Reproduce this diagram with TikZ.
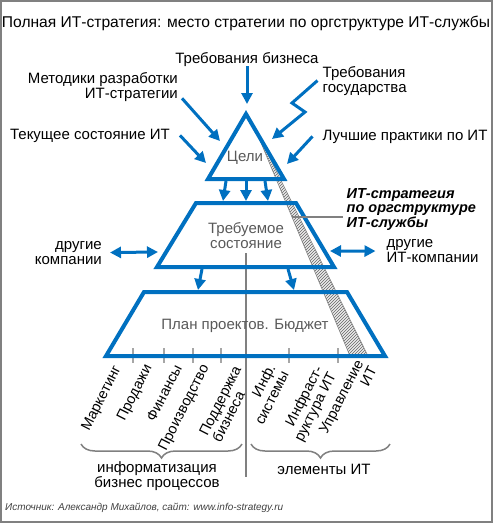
\documentclass[tikz,border=0pt]{standalone}
\usepackage{fontspec}
\setsansfont{Liberation Sans}
\usetikzlibrary{arrows.meta,patterns,decorations.pathreplacing}
\definecolor{itblue}{RGB}{0,112,192}

\begin{document}
\begin{tikzpicture}[x=1pt,y=-1pt,inner sep=0pt,font=\sffamily\fontsize{15}{15}\selectfont,
		tier/.style={draw=itblue,line width=4},
		feed/.style={itblue,line width=3,-{Triangle[length=11pt,width=11pt]}},
		linkboth/.style={itblue,line width=3,{Triangle[length=11pt,width=11pt]}-{Triangle[length=11pt,width=11pt]}},
		inlabel/.style={text=black!65},
		tilted/.style={rotate=63,anchor=east,font=\sffamily\fontsize{14.5}{15}\selectfont},
		grayline/.style={draw=black!50,line width=1.5}]
	\useasboundingbox (0,0) rectangle (493,523);
	\draw[black!50,line width=2] (1,1) rectangle (492,522);
	\node[anchor=base,font=\sffamily\fontsize{15.6}{16}\selectfont] (title) at (246,27) {Полная ИТ-стратегия: место стратегии по оргструктуре ИТ-службы};

	\draw[draw=black!50,line width=.6,preaction={fill=black!8},pattern=north east lines,pattern color=black!60] (254,126) -- (368,356) -- (350,356) -- cycle;
	\draw[grayline] (246,253) -- (246,477);
	\foreach \t in {133,164,193,221,289,338}{
		\draw[grayline,draw=black!35] (\t,348) -- (\t,363);
	}
	\draw[tier] (246,114) -- (284,179) -- (208,179) -- cycle;
	\draw[tier] (196,203) -- (296,203) -- (334,267) -- (157,267) -- cycle;
	\draw[tier] (144,292) -- (347,292) -- (385,356) -- (106,356) -- cycle;

	\node[inlabel,anchor=base] (goals) at (245,161) {Цели};
	\node[inlabel,anchor=base,align=center] (need) at (246,248.5) {Требуемое\\состояние};
	\node[inlabel,anchor=base] (plan) at (245,329) {План проектов. Бюджет};

	\node[anchor=base] (business) at (247,63) {Требования бизнеса};
	\node[anchor=base east,align=right] (methods) at (178,98) {Методики разработки\\ИТ-стратегии};
	\node[anchor=base east] (current) at (170,139) {Текущее состояние ИТ};
	\node[anchor=base west,align=left] (state) at (322.5,92) {Требования\\государства};
	\node[anchor=base west] (practice) at (322.5,140) {Лучшие практики по ИТ};
	\node[anchor=base west,align=left,font=\sffamily\bfseries\itshape\fontsize{14.5}{14.5}\selectfont] (strategy) at (346.5,227) {ИТ-стратегия\\по оргструктуре\\ИТ-службы};
	\node[anchor=base east,align=right] (peers) at (102,264) {другие\\компании};
	\node[anchor=base west,align=left] (itpeers) at (386.5,262.5) {другие\\ИТ-компании};

	\node[tilted] (marketing) at (118,367) {Маркетинг};
	\node[tilted] (sales) at (149,366) {Продажи};
	\node[tilted] (finance) at (178,365.5) {Финансы};
	\node[tilted] (production) at (206,365.5) {Производство};
	\node[tilted,align=left] (support) at (244,370) {Поддержка\\бизнеса};
	\node[tilted,align=right] (infosys) at (278,368.5) {Инф.\\системы};
	\node[tilted,align=right] (infra) at (326.5,370.5) {Инфраст-\\руктура ИТ};
	\node[tilted,align=right] (itmanage) at (366,364) {Управление\\ИТ};

	\draw[grayline,decorate,decoration={brace,mirror,amplitude=14pt}] (81,444) -- (242,444);
	\draw[grayline,decorate,decoration={brace,mirror,amplitude=14pt}] (251,444) -- (390,444);
	\node[anchor=base,align=center] (bizproc) at (157,487.5) {информатизация\\бизнес процессов};
	\node[anchor=base] (itparts) at (324,474) {элементы ИТ};

	\node[anchor=base west,font=\sffamily\itshape\fontsize{10}{12}\selectfont,text=black!75] (source) at (5,510) {Источник: Александр Михайлов, сайт: www.info-strategy.ru};

	\coordinate (goal-top) at (247,104);
	\coordinate (goal-left) at (220,141);
	\coordinate (goal-low) at (206,163);
	\coordinate (goal-right) at (272,139);
	\coordinate (goal-side) at (287,164);
	\coordinate (need-left) at (158,252);
	\coordinate (need-right) at (330,251);
	\coordinate (lead) at (292,217);
	\draw[feed] (business.south) -- (goal-top);
	\draw[feed] ([xshift=4pt,yshift=3pt]methods.south east) -- (goal-left);
	\draw[feed] ([xshift=10pt]current.east) -- (goal-low);
	\draw[feed] ([xshift=-5pt]state.west) -- (292,103) -- (305,112) -- (goal-right);
	\draw[feed] ([xshift=-10pt]practice.west) -- (goal-side);
	\foreach \a/\b in {226/223,246/246,265/268}{
		\draw[feed] (\a,181) -- (\b,201);
	}
	\draw[feed] (202,269) -- (198,290);
	\draw[feed] (288,269) -- (294,290);
	\draw[linkboth] ([xshift=8pt]peers.east) -- (need-left);
	\draw[linkboth] ([xshift=-11pt]itpeers.west) -- (need-right);
	\draw[grayline] (lead) -- ([xshift=-4pt]lead -| strategy.west);
\end{tikzpicture}
\end{document}
